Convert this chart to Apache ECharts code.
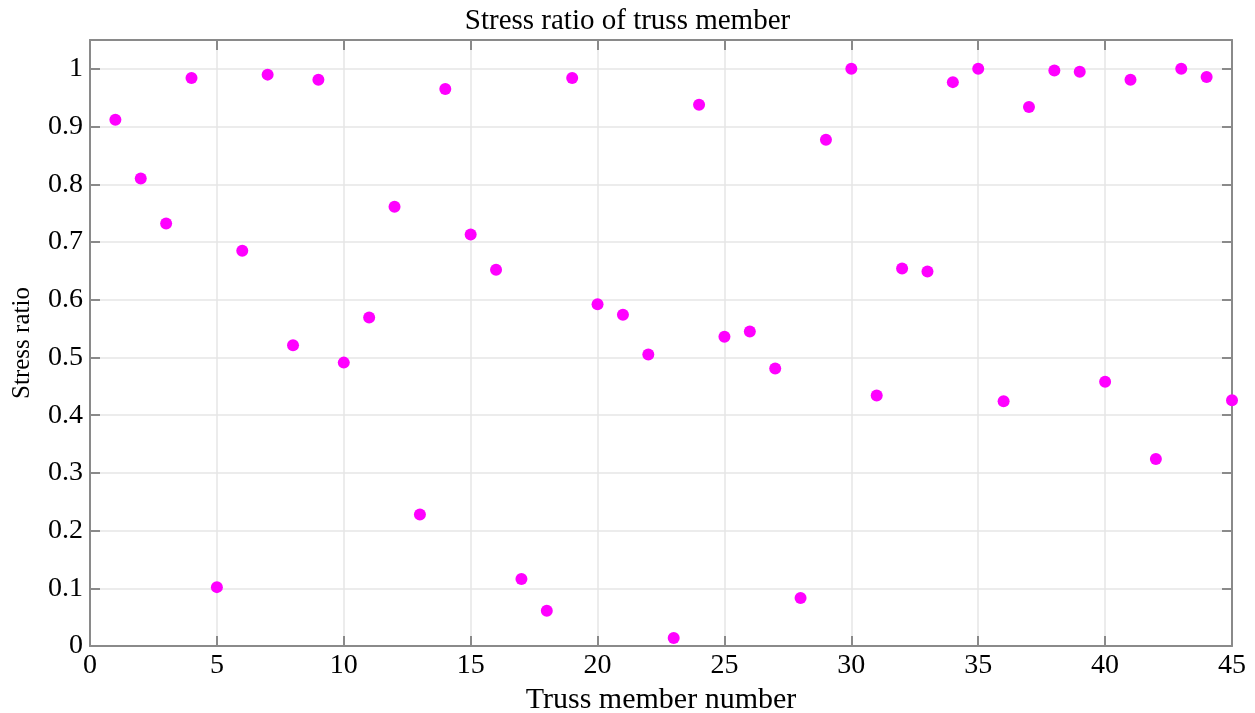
<!DOCTYPE html>
<html>
<head>
<meta charset="utf-8">
<script src="https://cdn.jsdelivr.net/npm/echarts@6/dist/echarts.min.js"></script>
<style>
  html, body { margin: 0; padding: 0; background: #fff; }
  #chart { width: 1255px; height: 713px; }
</style>
</head>
<body>
<div id="chart"></div>
<script>
// Member numbers and their stress ratios
const memberNumbers = [
  1, 2, 3, 4, 5, 6, 7, 8, 9, 10, 11, 12, 13, 14, 15,
  16, 17, 18, 19, 20, 21, 22, 23, 24, 25, 26, 27, 28, 29, 30,
  31, 32, 33, 34, 35, 36, 37, 38, 39, 40, 41, 42, 43, 44, 45
];
const stressRatios = [
  0.912, 0.810, 0.732, 0.984, 0.102, 0.685, 0.990, 0.521, 0.981, 0.491,
  0.569, 0.761, 0.228, 0.965, 0.713, 0.652, 0.116, 0.061, 0.984, 0.592,
  0.574, 0.505, 0.014, 0.938, 0.536, 0.545, 0.481, 0.083, 0.877, 1.000,
  0.434, 0.654, 0.649, 0.977, 1.000, 0.424, 0.934, 0.997, 0.995, 0.458,
  0.981, 0.324, 1.000, 0.986, 0.426
];
const xTicks = [0, 5, 10, 15, 20, 25, 30, 35, 40, 45];
const yTicks = [0, 0.1, 0.2, 0.3, 0.4, 0.5, 0.6, 0.7, 0.8, 0.9, 1];

const points = memberNumbers.map((m, i) => [m, stressRatios[i]]);

const FONT = 'Liberation Serif';
const AXIS_COLOR = '#8a8a8a';
const GRID_COLOR = '#e6e6e6';

const tickStyle = () => ({ show: true, inside: true, length: 10, lineStyle: { color: AXIS_COLOR, width: 2 } });
const lineStyle = () => ({ show: true, onZero: false, lineStyle: { color: AXIS_COLOR, width: 2 } });

const chart = echarts.init(document.getElementById('chart'));

chart.setOption({
  backgroundColor: '#fff',
  animation: false,
  title: {
    text: 'Stress ratio of truss member',
    left: 'center',
    top: 2,
    textStyle: { fontFamily: FONT, fontSize: 29, fontWeight: 'normal', color: '#000' }
  },
  grid: {
    left: 90, right: 23, top: 40, bottom: 67,
    containLabel: false, outerBoundsMode: 'none', show: false
  },
  xAxis: [
    {
      type: 'value', min: 0, max: 45, interval: 5,
      name: 'Truss member number', nameLocation: 'middle', nameGap: 33,
      nameTextStyle: { fontFamily: FONT, fontSize: 30, color: '#000' },
      axisLine: lineStyle(),
      axisTick: Object.assign(tickStyle(), { customValues: xTicks }),
      axisLabel: { fontFamily: FONT, fontSize: 28, color: '#000', margin: 6, customValues: xTicks },
      splitLine: { show: true, lineStyle: { color: GRID_COLOR, width: 1.5 } }
    },
    {
      // top edge of the frame
      type: 'value', min: 0, max: 45, interval: 5, position: 'top',
      axisLine: lineStyle(),
      axisTick: Object.assign(tickStyle(), { customValues: xTicks }),
      axisLabel: { show: false },
      splitLine: { show: false }
    }
  ],
  yAxis: [
    {
      type: 'value', min: 0, max: 1.05, interval: 0.1,
      name: 'Stress ratio', nameLocation: 'middle', nameGap: 55,
      nameTextStyle: { fontFamily: FONT, fontSize: 25, color: '#000' },
      axisLine: lineStyle(),
      axisTick: Object.assign(tickStyle(), { customValues: yTicks }),
      axisLabel: { fontFamily: FONT, fontSize: 28, color: '#000', margin: 7, customValues: yTicks,
        formatter: v => String(Math.round(v * 10) / 10) },
      splitLine: { show: true, lineStyle: { color: GRID_COLOR, width: 1.5 } }
    },
    {
      // right edge of the frame
      type: 'value', min: 0, max: 1.05, interval: 0.1, position: 'right',
      axisLine: lineStyle(),
      axisTick: Object.assign(tickStyle(), { customValues: yTicks }),
      axisLabel: { show: false },
      splitLine: { show: false }
    }
  ],
  series: [
    {
      type: 'scatter',
      xAxisIndex: 0,
      yAxisIndex: 0,
      data: points,
      symbol: 'circle',
      symbolSize: 12,
      itemStyle: { color: '#ff00ff', opacity: 1 }
    },
    {
      // empty series so the top and right frame axes are laid out
      type: 'scatter',
      xAxisIndex: 1,
      yAxisIndex: 1,
      data: [],
      silent: true
    }
  ]
});
</script>
</body>
</html>
